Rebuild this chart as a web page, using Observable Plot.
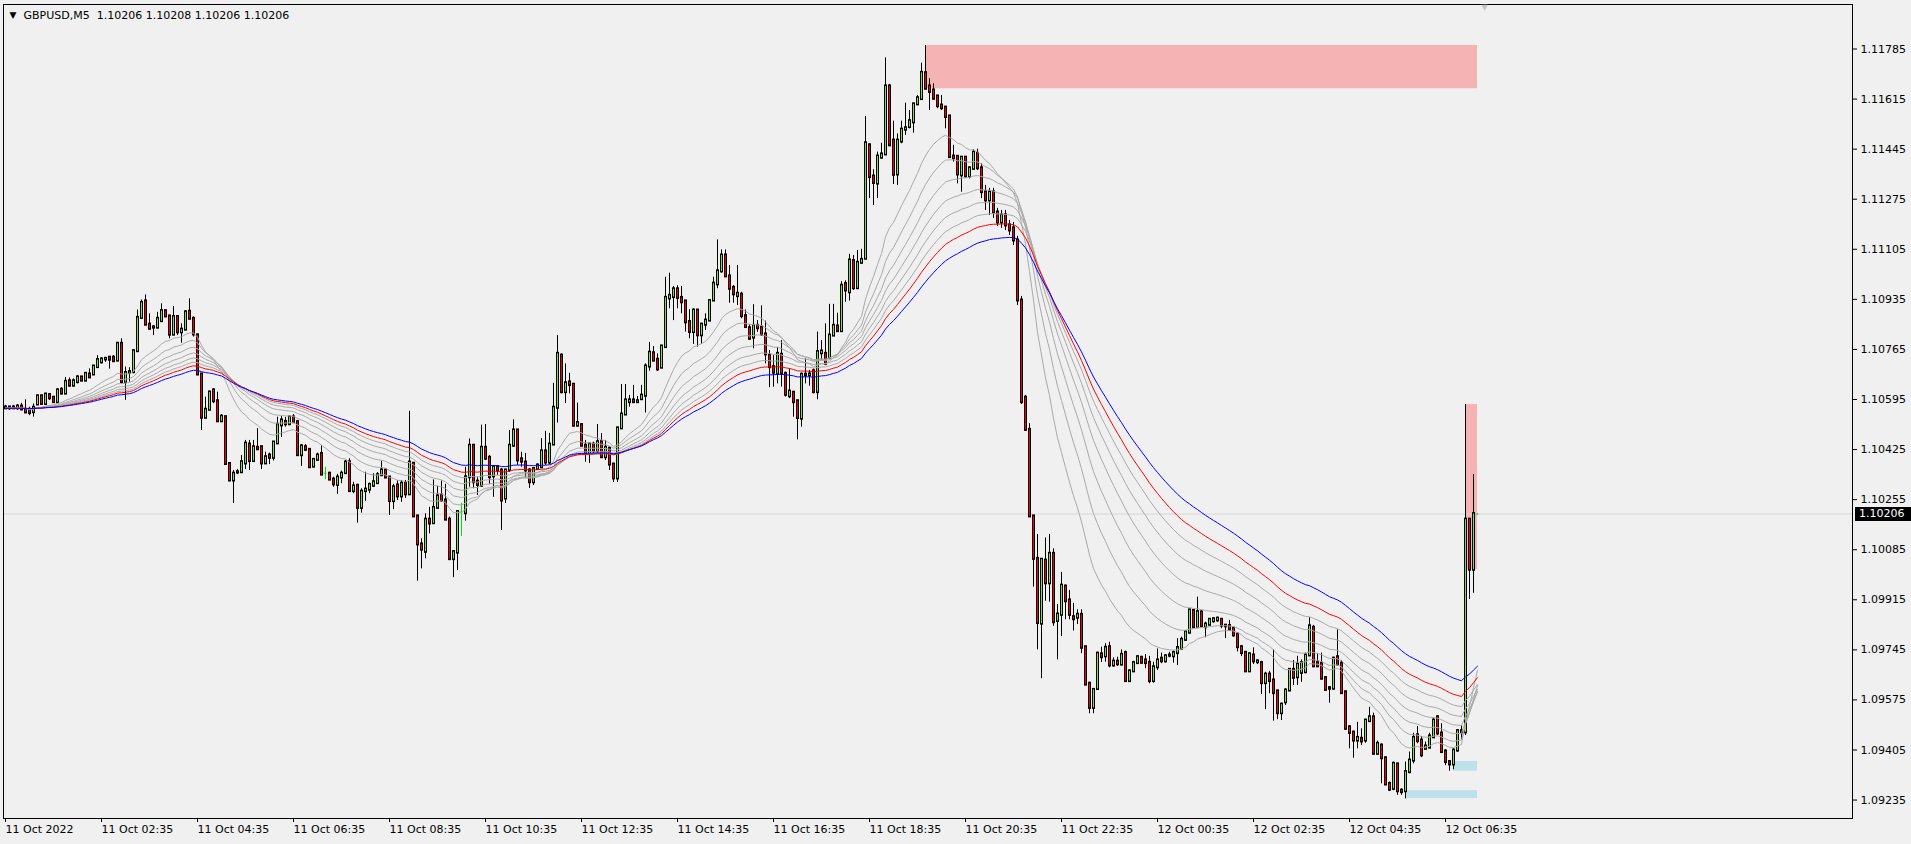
<!DOCTYPE html>
<html><head><meta charset="utf-8">
<script src="https://cdn.jsdelivr.net/npm/d3@7"></script>
<script src="https://cdn.jsdelivr.net/npm/@observablehq/plot@0.6"></script>
<style>
html,body{margin:0;padding:0;background:#f0f0f0;overflow:hidden}
svg text{white-space:pre}
</style></head><body>
<div id="chart"></div>
<script>
// ---------- data ----------
const symbolTitle = "GBPUSD,M5  1.10206 1.10208 1.10206 1.10206";
const timeLabels = ["11 Oct 2022","11 Oct 02:35","11 Oct 04:35","11 Oct 06:35","11 Oct 08:35","11 Oct 10:35","11 Oct 12:35","11 Oct 14:35","11 Oct 16:35","11 Oct 18:35","11 Oct 20:35","11 Oct 22:35","12 Oct 00:35","12 Oct 02:35","12 Oct 04:35","12 Oct 06:35"];
const timeLabelBars = [0,24,48,72,96,120,144,168,192,216,240,264,288,312,336,360];
const priceTicks = [1.09235,1.09405,1.09575,1.09745,1.09915,1.10085,1.10255,1.10425,1.10595,1.10765,1.10935,1.11105,1.11275,1.11445,1.11615,1.11785];
const chartShiftBar = 369.75;

const opens = [
1.10568,1.10565,1.10568,1.10565,1.10571,1.10560,1.10560,1.10552,1.10578,1.10606,
1.10580,1.10610,1.10601,1.10586,1.10628,1.10615,1.10657,1.10642,1.10654,1.10670,
1.10659,1.10680,1.10680,1.10705,1.10721,1.10731,1.10737,1.10737,1.10727,1.10784,
1.10654,1.10685,1.10688,1.10759,1.10872,1.10928,1.10849,1.10839,1.10839,1.10861,
1.10895,1.10877,1.10815,1.10875,1.10823,1.10832,1.10893,1.10869,1.10813,1.10680,
1.10533,1.10560,1.10626,1.10589,1.10521,1.10535,1.10376,1.10320,1.10347,1.10348,
1.10378,1.10442,1.10386,1.10431,1.10433,1.10378,1.10405,1.10397,1.10446,1.10507,
1.10519,1.10511,1.10534,1.10518,1.10406,1.10433,1.10424,1.10367,1.10390,1.10410,
1.10345,1.10343,1.10323,1.10305,1.10330,1.10345,1.10382,1.10284,1.10302,1.10227,
1.10284,1.10289,1.10302,1.10311,1.10338,1.10354,1.10330,1.10250,1.10303,1.10266,
1.10309,1.10273,1.10377,1.10198,1.10103,1.10078,1.10187,1.10175,1.10227,1.10269,
1.10252,1.10187,1.10053,1.10075,1.10213,1.10209,1.10331,1.10438,1.10316,1.10302,
1.10431,1.10397,1.10334,1.10365,1.10354,1.10259,1.10356,1.10438,1.10490,1.10392,
1.10381,1.10354,1.10314,1.10359,1.10365,1.10419,1.10381,1.10442,1.10567,1.10744,
1.10620,1.10653,1.10645,1.10506,1.10508,1.10438,1.10411,1.10442,1.10419,1.10450,
1.10399,1.10428,1.10374,1.10327,1.10497,1.10544,1.10586,1.10592,1.10586,1.10596,
1.10608,1.10707,1.10752,1.10730,1.10703,1.10773,1.10938,1.10943,1.10969,1.10940,
1.10928,1.10858,1.10824,1.10897,1.10813,1.10849,1.10863,1.10931,1.10986,1.11030,
1.11084,1.11013,1.10974,1.10946,1.10951,1.10878,1.10837,1.10805,1.10845,1.10839,
1.10816,1.10744,1.10705,1.10682,1.10747,1.10682,1.10606,1.10618,1.10589,1.10530,
1.10679,1.10677,1.10691,1.10620,1.10752,1.10750,1.10737,1.10812,1.10843,1.10827,
1.10987,1.10959,1.11065,1.10973,1.11059,1.11073,1.11458,1.11352,1.11328,1.11416,
1.11427,1.11658,1.11474,1.11359,1.11471,1.11511,1.11520,1.11536,1.11597,1.11615,
1.11703,1.11658,1.11644,1.11624,1.11593,1.11586,1.11556,1.11420,1.11419,1.11356,
1.11416,1.11352,1.11378,1.11429,1.11380,1.11299,1.11271,1.11298,1.11230,1.11196,
1.11220,1.11186,1.11176,1.11135,1.10931,1.10601,1.10492,1.10198,1.10054,1.09834,
1.10048,1.09971,1.10071,1.09843,1.09864,1.09960,1.09913,1.09856,1.09854,1.09864,
1.09754,1.09630,1.09548,1.09612,1.09730,1.09723,1.09754,1.09692,1.09705,1.09695,
1.09734,1.09639,1.09672,1.09700,1.09718,1.09709,1.09701,1.09639,1.09686,1.09715,
1.09706,1.09725,1.09723,1.09734,1.09749,1.09779,1.09803,1.09877,1.09822,1.09872,
1.09822,1.09830,1.09842,1.09845,1.09847,1.09827,1.09826,1.09817,1.09797,1.09754,
1.09735,1.09672,1.09726,1.09703,1.09700,1.09632,1.09661,1.09641,1.09604,1.09530,
1.09567,1.09607,1.09677,1.09652,1.09667,1.09669,1.09726,1.09820,1.09700,1.09698,
1.09649,1.09615,1.09613,1.09720,1.09698,1.09601,1.09482,1.09464,1.09437,1.09443,
1.09437,1.09503,1.09516,1.09392,1.09420,1.09377,1.09290,1.09273,1.09356,1.09267,
1.09265,1.09330,1.09369,1.09455,1.09437,1.09409,1.09413,1.09448,1.09516,1.09461,
1.09400,1.09364,1.09356,1.09403,1.09469,1.09465,1.10187,1.10017,1.10206];

const highs = [
1.10575,1.10571,1.10575,1.10578,1.10582,1.10594,1.10569,1.10580,1.10609,1.10609,
1.10615,1.10612,1.10603,1.10632,1.10635,1.10670,1.10668,1.10665,1.10676,1.10673,
1.10687,1.10699,1.10710,1.10744,1.10737,1.10738,1.10738,1.10744,1.10789,1.10801,
1.10705,1.10703,1.10764,1.10899,1.10933,1.10950,1.10886,1.10846,1.10891,1.10920,
1.10897,1.10880,1.10911,1.10880,1.10852,1.10897,1.10937,1.10875,1.10816,1.10682,
1.10603,1.10620,1.10632,1.10620,1.10544,1.10537,1.10378,1.10354,1.10357,1.10405,
1.10456,1.10456,1.10456,1.10496,1.10436,1.10416,1.10413,1.10451,1.10535,1.10537,
1.10534,1.10537,1.10544,1.10524,1.10442,1.10442,1.10427,1.10393,1.10413,1.10439,
1.10365,1.10348,1.10331,1.10341,1.10352,1.10388,1.10394,1.10314,1.10307,1.10292,
1.10348,1.10311,1.10343,1.10347,1.10386,1.10359,1.10331,1.10307,1.10320,1.10320,
1.10320,1.10555,1.10381,1.10200,1.10122,1.10207,1.10229,1.10322,1.10300,1.10318,
1.10307,1.10196,1.10082,1.10218,1.10243,1.10365,1.10461,1.10442,1.10331,1.10508,
1.10510,1.10405,1.10371,1.10367,1.10361,1.10358,1.10490,1.10526,1.10493,1.10416,
1.10412,1.10361,1.10364,1.10376,1.10462,1.10487,1.10480,1.10650,1.10812,1.10750,
1.10716,1.10684,1.10649,1.10583,1.10513,1.10456,1.10447,1.10450,1.10510,1.10479,
1.10456,1.10433,1.10378,1.10501,1.10646,1.10646,1.10609,1.10643,1.10605,1.10643,
1.10716,1.10789,1.10775,1.10750,1.10779,1.11010,1.11024,1.10979,1.10981,1.10979,
1.10931,1.10900,1.10903,1.10899,1.10854,1.10886,1.10934,1.11010,1.11137,1.11103,
1.11103,1.11050,1.10982,1.11050,1.10959,1.10899,1.10850,1.10917,1.10863,1.10913,
1.10861,1.10761,1.10744,1.10772,1.10795,1.10688,1.10699,1.10622,1.10592,1.10685,
1.10733,1.10694,1.10699,1.10824,1.10795,1.10852,1.10918,1.10918,1.10888,1.10995,
1.10998,1.11088,1.11084,1.11101,1.11105,1.11556,1.11463,1.11375,1.11435,1.11465,
1.11755,1.11665,1.11540,1.11497,1.11540,1.11601,1.11576,1.11601,1.11627,1.11737,
1.11797,1.11684,1.11667,1.11627,1.11627,1.11590,1.11559,1.11458,1.11422,1.11418,
1.11420,1.11384,1.11443,1.11445,1.11395,1.11322,1.11312,1.11312,1.11244,1.11237,
1.11237,1.11203,1.11196,1.11149,1.10945,1.10609,1.10513,1.10198,1.10137,1.10054,
1.10125,1.10137,1.10088,1.09899,1.10008,1.09965,1.09947,1.09903,1.09881,1.09881,
1.09756,1.09635,1.09613,1.09737,1.09754,1.09766,1.09771,1.09718,1.09720,1.09745,
1.09741,1.09677,1.09706,1.09725,1.09723,1.09729,1.09723,1.09703,1.09748,1.09734,
1.09729,1.09737,1.09741,1.09783,1.09788,1.09811,1.09881,1.09881,1.09924,1.09879,
1.09839,1.09850,1.09854,1.09856,1.09851,1.09831,1.09845,1.09822,1.09802,1.09760,
1.09737,1.09734,1.09752,1.09711,1.09706,1.09669,1.09672,1.09745,1.09607,1.09564,
1.09613,1.09681,1.09709,1.09723,1.09711,1.09734,1.09854,1.09828,1.09732,1.09734,
1.09652,1.09620,1.09720,1.09813,1.09709,1.09604,1.09488,1.09469,1.09499,1.09477,
1.09508,1.09550,1.09530,1.09435,1.09426,1.09381,1.09296,1.09364,1.09360,1.09273,
1.09364,1.09398,1.09462,1.09485,1.09451,1.09432,1.09462,1.09511,1.09522,1.09494,
1.09406,1.09369,1.09409,1.09474,1.09488,1.10578,1.10191,1.10340,1.10208];

const lows = [
1.10561,1.10558,1.10561,1.10558,1.10561,1.10549,1.10540,1.10535,1.10575,1.10578,
1.10578,1.10592,1.10584,1.10584,1.10611,1.10612,1.10637,1.10637,1.10648,1.10656,
1.10657,1.10668,1.10676,1.10702,1.10716,1.10721,1.10698,1.10721,1.10725,1.10648,
1.10592,1.10654,1.10682,1.10756,1.10869,1.10846,1.10832,1.10812,1.10835,1.10857,
1.10875,1.10801,1.10812,1.10812,1.10786,1.10829,1.10868,1.10807,1.10676,1.10490,
1.10530,1.10558,1.10581,1.10518,1.10517,1.10374,1.10317,1.10242,1.10340,1.10344,
1.10357,1.10354,1.10382,1.10422,1.10357,1.10376,1.10374,1.10386,1.10442,1.10466,
1.10501,1.10510,1.10515,1.10405,1.10368,1.10419,1.10363,1.10365,1.10388,1.10337,
1.10323,1.10320,1.10297,1.10273,1.10309,1.10343,1.10280,1.10275,1.10175,1.10209,
1.10249,1.10275,1.10297,1.10309,1.10334,1.10327,1.10201,1.10221,1.10252,1.10246,
1.10259,1.10269,1.10196,1.09978,1.10020,1.10054,1.10139,1.10171,1.10224,1.10246,
1.10184,1.10048,1.09990,1.10014,1.10130,1.10182,1.10297,1.10292,1.10269,1.10297,
1.10388,1.10307,1.10263,1.10337,1.10150,1.10242,1.10347,1.10432,1.10371,1.10365,
1.10327,1.10293,1.10303,1.10354,1.10362,1.10371,1.10374,1.10439,1.10515,1.10614,
1.10581,1.10614,1.10502,1.10502,1.10436,1.10382,1.10378,1.10411,1.10411,1.10397,
1.10388,1.10354,1.10313,1.10313,1.10494,1.10541,1.10569,1.10581,1.10585,1.10592,
1.10549,1.10691,1.10725,1.10691,1.10700,1.10771,1.10903,1.10863,1.10903,1.10886,
1.10824,1.10801,1.10782,1.10773,1.10782,1.10829,1.10861,1.10929,1.10971,1.11024,
1.11010,1.10922,1.10922,1.10914,1.10869,1.10837,1.10798,1.10767,1.10823,1.10809,
1.10716,1.10635,1.10637,1.10648,1.10637,1.10603,1.10598,1.10535,1.10458,1.10501,
1.10648,1.10640,1.10614,1.10594,1.10727,1.10710,1.10733,1.10809,1.10824,1.10824,
1.10925,1.10929,1.10965,1.10971,1.11056,1.11070,1.11277,1.11254,1.11277,1.11412,
1.11424,1.11454,1.11325,1.11322,1.11463,1.11492,1.11514,1.11499,1.11593,1.11613,
1.11648,1.11576,1.11613,1.11582,1.11576,1.11514,1.11416,1.11401,1.11327,1.11299,
1.11348,1.11344,1.11375,1.11372,1.11277,1.11237,1.11220,1.11210,1.11183,1.11176,
1.11169,1.11152,1.11118,1.10914,1.10578,1.10487,1.10196,1.09958,1.09745,1.09647,
1.09910,1.09907,1.09825,1.09711,1.09790,1.09847,1.09847,1.09809,1.09831,1.09732,
1.09624,1.09528,1.09528,1.09609,1.09702,1.09703,1.09684,1.09686,1.09689,1.09691,
1.09635,1.09635,1.09669,1.09698,1.09698,1.09681,1.09630,1.09632,1.09675,1.09698,
1.09700,1.09718,1.09700,1.09692,1.09745,1.09774,1.09800,1.09820,1.09817,1.09820,
1.09786,1.09827,1.09836,1.09839,1.09817,1.09783,1.09811,1.09788,1.09738,1.09722,
1.09669,1.09669,1.09695,1.09695,1.09593,1.09542,1.09596,1.09503,1.09508,1.09505,
1.09556,1.09605,1.09624,1.09624,1.09635,1.09664,1.09723,1.09686,1.09686,1.09643,
1.09607,1.09564,1.09609,1.09692,1.09596,1.09471,1.09409,1.09377,1.09409,1.09420,
1.09428,1.09499,1.09389,1.09389,1.09290,1.09284,1.09264,1.09267,1.09251,1.09251,
1.09239,1.09324,1.09358,1.09426,1.09379,1.09406,1.09409,1.09445,1.09454,1.09396,
1.09352,1.09333,1.09338,1.09398,1.09437,1.09454,1.09916,1.09937,1.10206];

const closes = [
1.10565,1.10568,1.10565,1.10571,1.10561,1.10551,1.10549,1.10567,1.10606,1.10580,
1.10612,1.10599,1.10586,1.10626,1.10615,1.10655,1.10642,1.10657,1.10670,1.10659,
1.10682,1.10670,1.10707,1.10729,1.10731,1.10733,1.10730,1.10725,1.10784,1.10654,
1.10685,1.10688,1.10759,1.10872,1.10923,1.10849,1.10835,1.10840,1.10869,1.10895,
1.10877,1.10815,1.10875,1.10823,1.10832,1.10891,1.10869,1.10816,1.10680,1.10533,
1.10560,1.10619,1.10589,1.10521,1.10537,1.10376,1.10320,1.10343,1.10348,1.10382,
1.10445,1.10386,1.10433,1.10426,1.10378,1.10399,1.10397,1.10449,1.10509,1.10524,
1.10511,1.10534,1.10518,1.10406,1.10436,1.10424,1.10365,1.10390,1.10405,1.10340,
1.10345,1.10323,1.10307,1.10330,1.10343,1.10381,1.10284,1.10300,1.10227,1.10282,
1.10289,1.10305,1.10314,1.10338,1.10354,1.10330,1.10250,1.10297,1.10266,1.10309,
1.10273,1.10381,1.10198,1.10103,1.10085,1.10187,1.10174,1.10227,1.10266,1.10252,
1.10187,1.10053,1.10077,1.10213,1.10213,1.10331,1.10438,1.10314,1.10305,1.10431,
1.10394,1.10331,1.10365,1.10354,1.10252,1.10354,1.10438,1.10490,1.10388,1.10384,
1.10354,1.10314,1.10359,1.10371,1.10419,1.10381,1.10442,1.10567,1.10750,1.10620,
1.10650,1.10644,1.10506,1.10515,1.10438,1.10411,1.10442,1.10419,1.10450,1.10399,
1.10431,1.10374,1.10327,1.10497,1.10544,1.10592,1.10592,1.10586,1.10589,1.10608,
1.10707,1.10754,1.10727,1.10697,1.10775,1.10940,1.10947,1.10969,1.10940,1.10925,
1.10857,1.10824,1.10897,1.10813,1.10849,1.10863,1.10929,1.10988,1.11030,1.11084,
1.11013,1.10971,1.10952,1.10954,1.10878,1.10841,1.10801,1.10845,1.10837,1.10816,
1.10748,1.10705,1.10686,1.10750,1.10682,1.10611,1.10622,1.10586,1.10532,1.10679,
1.10677,1.10680,1.10620,1.10756,1.10758,1.10716,1.10812,1.10845,1.10827,1.10981,
1.10965,1.11067,1.10973,1.11059,1.11069,1.11465,1.11350,1.11330,1.11420,1.11427,
1.11658,1.11458,1.11358,1.11474,1.11511,1.11516,1.11540,1.11597,1.11618,1.11704,
1.11650,1.11639,1.11616,1.11591,1.11584,1.11554,1.11418,1.11414,1.11359,1.11416,
1.11352,1.11380,1.11433,1.11380,1.11299,1.11271,1.11298,1.11230,1.11196,1.11220,
1.11186,1.11169,1.11135,1.10931,1.10586,1.10492,1.10198,1.10054,1.09836,1.10051,
1.09971,1.10071,1.09839,1.09865,1.09963,1.09910,1.09864,1.09849,1.09864,1.09752,
1.09627,1.09548,1.09609,1.09732,1.09720,1.09752,1.09692,1.09705,1.09696,1.09728,
1.09639,1.09672,1.09700,1.09720,1.09701,1.09700,1.09639,1.09686,1.09709,1.09706,
1.09723,1.09726,1.09734,1.09751,1.09779,1.09805,1.09879,1.09822,1.09873,1.09825,
1.09831,1.09847,1.09849,1.09851,1.09827,1.09825,1.09813,1.09794,1.09754,1.09734,
1.09672,1.09730,1.09706,1.09706,1.09632,1.09661,1.09639,1.09598,1.09530,1.09559,
1.09607,1.09677,1.09650,1.09695,1.09700,1.09726,1.09825,1.09689,1.09689,1.09647,
1.09609,1.09613,1.09715,1.09695,1.09598,1.09477,1.09463,1.09437,1.09446,1.09434,
1.09505,1.09516,1.09392,1.09426,1.09377,1.09288,1.09270,1.09358,1.09265,1.09262,
1.09330,1.09369,1.09446,1.09435,1.09387,1.09417,1.09451,1.09505,1.09461,1.09398,
1.09364,1.09356,1.09403,1.09469,1.09465,1.10187,1.10017,1.10206,1.10206];

const emaPeriods = [19, 27, 35, 43, 51, 59, 67, 79];
const emaColors = ["#a9a9a9","#a9a9a9","#a9a9a9","#a9a9a9","#a9a9a9","#a9a9a9","#ff0000","#0000ff"];

const supplyZones = [
  {start: 230, end: 368, top: 1.11797, bottom: 1.11650},
  {start: 365, end: 368, top: 1.10578, bottom: 1.10017}
];
const demandZones = [
  {start: 350, end: 368, top: 1.09267, bottom: 1.09240},
  {start: 362, end: 368, top: 1.09366, bottom: 1.09333}
];

// ---------- build ----------
const bars = closes.map((c, i) => ({i, open: opens[i], high: highs[i], low: lows[i], close: c}));
const up = bars.filter(d => d.close > d.open);
const down = bars.filter(d => d.close < d.open);
const doji = bars.filter(d => d.close === d.open);
const normal = bars.filter(d => d.close !== d.open);
const lastClose = closes[closes.length - 1];

function ema(values, period) {
  const k = 2 / (period + 1);
  let e = values[0];
  return values.map(v => (e = e + k * (v - e)));
}
const emaLines = emaPeriods.map(p => ema(closes, p).map((v, i) => ({i, v})));

const labelMap = new Map(timeLabelBars.map((b, k) => [b, timeLabels[k]]));

const bullFill = "#86e41c", bearFill = "#f20000", dojiColor = "#00e000";

const chart = Plot.plot({
  width: 1911, height: 844,
  marginTop: 4, marginBottom: 26, marginLeft: 3, marginRight: 59,
  style: {background: "#f0f0f0", fontFamily: "DejaVu Sans", fontSize: "11px", color: "#000"},
  x: {type: "linear", domain: [-0.5, 461.75], label: null},
  y: {domain: [1.091724, 1.119361], label: null},
  marks: [
    Plot.rect(supplyZones, {x1: "start", x2: "end", y1: "bottom", y2: "top", fill: "#f5b3b3"}),
    Plot.rect(demandZones, {x1: "start", x2: "end", y1: "bottom", y2: "top", fill: "#bde0ea"}),
    Plot.ruleY([lastClose], {stroke: "#d6d6d6"}),
    // wicks
    Plot.ruleX(normal, {x: "i", y1: "low", y2: "high", stroke: "#000"}),
    Plot.ruleX(doji, {x: "i", y1: "low", y2: "high", stroke: dojiColor}),
    Plot.ruleY(doji, {y: "close", x1: d => d.i - 0.375, x2: d => d.i + 0.375, stroke: dojiColor}),
    // bodies: black outline (3px) then coloured core (1px)
    Plot.ruleX(normal, {x: "i", y1: "open", y2: "close", stroke: "#000", strokeWidth: 3, strokeLinecap: "square"}),
    Plot.ruleX(up, {x: "i", y1: "open", y2: "close", stroke: bullFill, strokeWidth: 1}),
    Plot.ruleX(down, {x: "i", y1: "open", y2: "close", stroke: bearFill, strokeWidth: 1}),
    // moving averages
    ...emaLines.map((line, k) => Plot.line(line, {x: "i", y: "v", stroke: emaColors[k], strokeWidth: 1})),
    Plot.frame({stroke: "#000"}),
    Plot.axisY(priceTicks, {anchor: "right", tickSize: 4, tickPadding: 4, tickFormat: d => d.toFixed(5), color: "#000"}),
    Plot.axisX(timeLabelBars, {anchor: "bottom", tickSize: 4, tickPadding: 3, tickFormat: d => labelMap.get(d), textAnchor: "start", color: "#000"}),
    Plot.text(["\u25BC"], {x: [chartShiftBar], frameAnchor: "top", dy: 3, lineAnchor: "middle", fontSize: 8, fill: "#c4c4c4"}),
    Plot.text(["\u25BC"], {frameAnchor: "top-left", dx: 6, dy: 11, textAnchor: "start", lineAnchor: "middle", fontSize: 9, fill: "#000"}),
    Plot.text([symbolTitle], {frameAnchor: "top-left", dx: 20, dy: 11, textAnchor: "start", lineAnchor: "middle", fill: "#000"})
  ]
});

document.getElementById("chart").appendChild(chart);

// current price label on the price axis
const sy = chart.scale("y");
const yPix = sy.apply(lastClose);
const svg = d3.select(chart);
const g = svg.append("g");
g.append("rect").attr("x", 1855).attr("y", Math.round(yPix) - 7).attr("width", 56).attr("height", 14).attr("fill", "#000");
g.append("text").attr("x", 1859).attr("y", yPix).attr("dy", "0.35em").attr("fill", "#fff")
  .attr("text-anchor", "start").attr("font-family", "DejaVu Sans").attr("font-size", 11).text(lastClose.toFixed(5));
</script>
</body></html>
